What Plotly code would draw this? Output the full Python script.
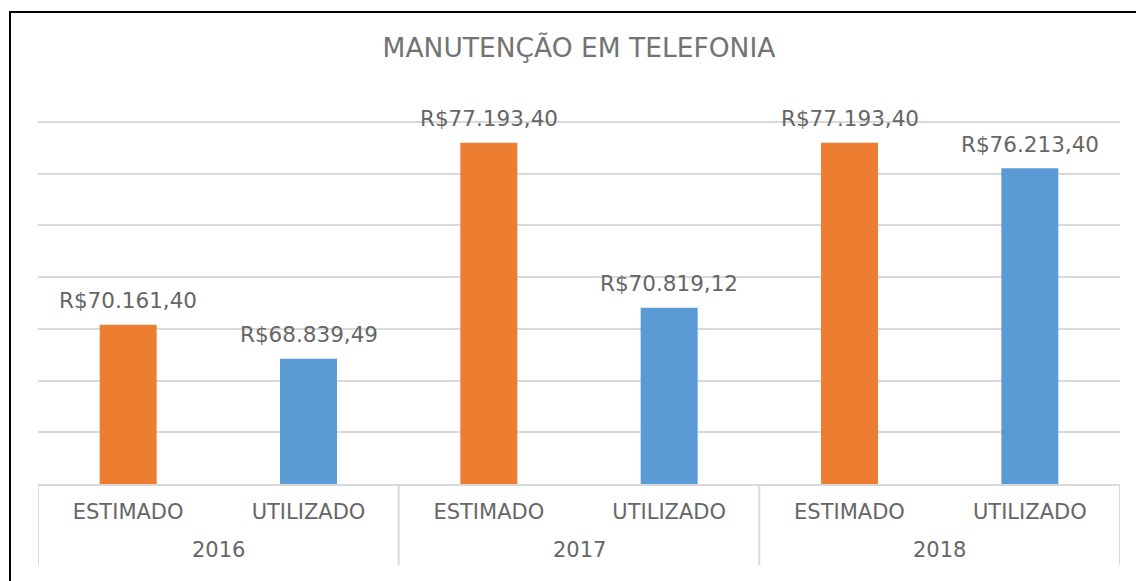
import plotly.graph_objects as go

years = ["2016", "2017", "2018"]
kinds = ["ESTIMADO", "UTILIZADO", "ESTIMADO", "UTILIZADO", "ESTIMADO", "UTILIZADO"]
values = [70161.40, 68839.49, 77193.40, 70819.12, 77193.40, 76213.40]
labels = ["R$70.161,40", "R$68.839,49", "R$77.193,40", "R$70.819,12", "R$77.193,40", "R$76.213,40"]

kind_colors = {"ESTIMADO": "#ED7D31", "UTILIZADO": "#5B9BD5"}
TXT = "#666666"
TITLE = "#737373"
GRID = "#D9D9D9"
FONT = "DejaVu Sans"

pos = list(range(len(values)))
per_group = len(values) // len(years)

PLOT_H = 365  # pixels of plot area
Y_MIN, Y_GRID_TOP = 64000, 78000
y_top = Y_MIN + (Y_GRID_TOP - Y_MIN) * PLOT_H / 362

fig = go.Figure()
fig.add_trace(go.Bar(
    x=pos,
    y=values,
    width=0.316,
    marker=dict(color=[kind_colors[k] for k in kinds], line=dict(width=0)),
    hoverinfo="skip",
))

for i, (v, lab) in enumerate(zip(values, labels)):
    fig.add_annotation(x=i, y=v, xref="x", yref="y", text=lab, showarrow=False,
                       yanchor="middle", yshift=24,
                       font=dict(family=FONT, size=21.5, color=TXT))

# group (year) labels and dividers
for g, yr in enumerate(years):
    center = g * per_group + (per_group - 1) / 2
    fig.add_annotation(x=center, y=-66 / PLOT_H, xref="x", yref="paper", text=yr,
                       showarrow=False, yanchor="middle",
                       font=dict(family=FONT, size=21, color=TXT))
for g in range(len(years) + 1):
    xb = g * per_group - 0.5
    fig.add_shape(type="line", xref="x", yref="paper", x0=xb, x1=xb,
                  y0=0, y1=-81 / PLOT_H, line=dict(color=GRID, width=2))

# outer chart border (partially cropped)
fig.add_shape(type="rect", xref="paper", yref="paper",
              x0=-28 / 1082, x1=1.03, y0=-0.32, y1=(484 - 12) / PLOT_H,
              line=dict(color="black", width=2), layer="above")

fig.update_layout(
    width=1136, height=581,
    margin=dict(l=38, r=16, t=581 - 97 - PLOT_H, b=97),
    paper_bgcolor="white", plot_bgcolor="white",
    showlegend=False,
    title=dict(text="MANUTENÇÃO EM TELEFONIA", x=(579 / 1136), xanchor="center",
               y=1 - 48 / 581, yanchor="middle",
               font=dict(family=FONT, size=26.5, color=TITLE)),
    font=dict(family=FONT, color=TXT),
    xaxis=dict(
        range=[-0.5, len(values) - 0.5],
        tickmode="array", tickvals=pos, ticktext=kinds,
        showline=True, linecolor=GRID, linewidth=2,
        showgrid=False, zeroline=False, ticks="",
        ticklabelstandoff=8,
        tickfont=dict(family=FONT, size=21, color=TXT),
        fixedrange=True,
    ),
    yaxis=dict(
        range=[Y_MIN, y_top], dtick=2000, tick0=Y_MIN,
        showticklabels=False, showgrid=True, gridcolor=GRID, gridwidth=2,
        zeroline=False, showline=False, ticks="", fixedrange=True,
    ),
)

fig.write_html("out.html", config={"displayModeBar": False},
               post_script="document.body.style.margin='0';")
